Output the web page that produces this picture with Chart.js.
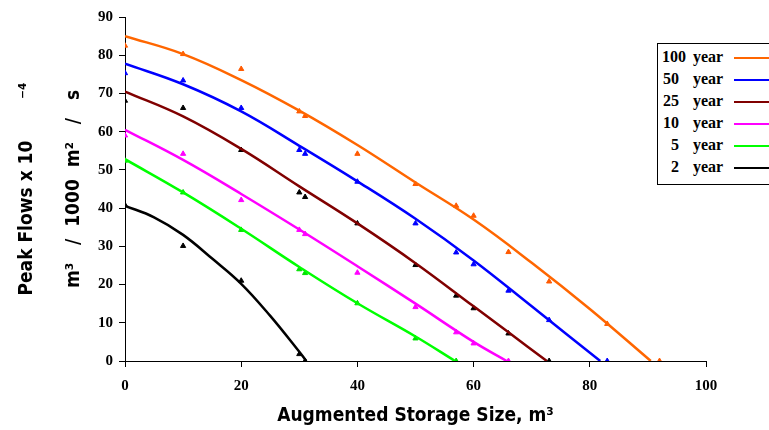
<!DOCTYPE html>
<html>
<head>
<meta charset="utf-8">
<title>Peak Flows vs Augmented Storage Size</title>
<script src="https://cdn.jsdelivr.net/npm/chart.js@4.4.1/dist/chart.umd.min.js"></script>
<style>
    body { margin: 0; background: #fff; }
    #wrap { position: relative; width: 769px; height: 430px; overflow: hidden; }
    #legend {
        position: absolute; left: 657px; top: 43px; width: 140px; height: 140px;
        border: 1px solid #000; background: #fff;
        font: bold 16px "Liberation Serif", "Times New Roman", serif; color: #000;
    }
    .row { position: absolute; left: 0; width: 140px; height: 22px; line-height: 22px; }
    .num { position: absolute; left: 4px; width: 17px; text-align: right; white-space: nowrap; }
    .yr { position: absolute; left: 35px; }
    .swatch { position: absolute; left: 76px; width: 60px; height: 2px; top: 11px; }
</style>
</head>
<body>
<div id="wrap">
    <canvas id="peakChart" width="769" height="430"></canvas>
    <div id="legend"></div>
</div>
<script>
// Storage sizes (m3) where the triangles were plotted
const markX = [0, 10, 20, 30, 31, 40, 50, 57, 60, 66, 73, 83, 92];

// Observed peak flows (triangles), one array per return period
const marks100 = [82.5, 80.3, 76.4, 65.3, 64.1, 54.2, 46.3, 40.6, 38, 28.5, 20.8, 9.7, 0];
const marks50 = [75.3, 73.4, 66.2, 55.2, 54.2, 46.9, 36, 28.4, 25.3, 18.4, 10.7, 0];
const marks25 = [68.1, 66.2, 55.2, 44.1, 42.9, 36, 25.1, 17.1, 13.8, 7.2, 0];
const marks10 = [59, 54.2, 42.1, 34.3, 33.2, 23.1, 14.1, 7.5, 4.6, 0];
const marks5 = [52.4, 44.1, 34.3, 24, 23, 15.1, 5.9, 0];
const marks2 = [40.8, 30.1, 21, 1.8, 0];

// Fitted curves
const curve100X = [0, 10, 20, 30, 40, 50, 60, 70, 80, 90.5];
const curve100Y = [85, 80.3, 73.5, 65.5, 56.5, 46.7, 37, 25.7, 13.6, 0];
const curve50X = [0, 10, 20, 30, 40, 50, 60, 70, 81.8];
const curve50Y = [77.8, 72.4, 65.3, 56.3, 47, 37.2, 26.3, 14.3, 0];
const curve25X = [0, 10, 20, 30, 40, 50, 60, 66, 72.6];
const curve25Y = [70.5, 64, 55.5, 45.7, 36, 25.6, 14.3, 7.5, 0];
const curve10X = [0, 10, 20, 30, 40, 50, 60, 65.7];
const curve10Y = [60.5, 52.6, 43.7, 34.4, 24.8, 15, 5, 0];
const curve5X = [0, 10, 20, 30, 40, 50, 56.8];
const curve5Y = [52.8, 44.1, 34.6, 24.6, 15.1, 6.4, 0];
const curve2X = [0, 5, 10, 15, 20, 25, 30, 31.2];
const curve2Y = [40.6, 37.6, 33, 26.8, 20.2, 11.8, 2.4, 0];

const xTicks = [0, 20, 40, 60, 80, 100];
const yTicks = [0, 10, 20, 30, 40, 50, 60, 70, 80, 90];

const series = [
    { label: '100', lineColor: '#FF6600', markColor: '#FF5A00', marks: marks100, cx: curve100X, cy: curve100Y },
    { label: '50', lineColor: '#0000FF', markColor: '#0000FF', marks: marks50, cx: curve50X, cy: curve50Y },
    { label: '25', lineColor: '#800000', markColor: '#000000', marks: marks25, cx: curve25X, cy: curve25Y },
    { label: '10', lineColor: '#FF00FF', markColor: '#FF00FF', marks: marks10, cx: curve10X, cy: curve10Y },
    { label: '5', lineColor: '#00FF00', markColor: '#00E000', marks: marks5, cx: curve5X, cy: curve5Y },
    { label: '2', lineColor: '#000000', markColor: '#000000', marks: marks2, cx: curve2X, cy: curve2Y }
];

const datasets = [];
series.forEach(s => {
    datasets.push({
        label: s.label + ' year',
        data: s.cx.map((x, i) => ({ x: x, y: s.cy[i] })),
        borderColor: s.lineColor,
        borderWidth: 2.5,
        pointRadius: 0,
        tension: 0.4,
        fill: false
    });
});
series.forEach(s => {
    datasets.push({
        label: s.label + ' year obs',
        data: s.marks.map((y, i) => ({ x: markX[i], y: y })),
        showLine: false,
        pointStyle: 'triangle',
        pointRadius: 3,
        pointBackgroundColor: s.markColor,
        pointBorderColor: s.markColor,
        pointBorderWidth: 1
    });
});

// Legend box on the right
const legendDiv = document.getElementById('legend');
series.forEach((s, i) => {
    const row = document.createElement('div');
    row.className = 'row';
    row.style.top = (2 + i * 22) + 'px';
    row.innerHTML = '<span class="num">' + s.label + '</span><span class="yr">year</span>' +
        '<span class="swatch" style="background:' + s.lineColor + '"></span>';
    legendDiv.appendChild(row);
});

const tickFont = { family: '"Liberation Serif", "Times New Roman", serif', size: 15, weight: 'bold' };
const titleFamily = '"DejaVu Sans Condensed", "DejaVu Sans", sans-serif';

const config = {
    type: 'line',
    data: { datasets: datasets },
    options: {
        responsive: false,
        animation: false,
        layout: { padding: { left: 0, right: 63, top: 17, bottom: 0 } },
        plugins: {
            legend: { display: false },
            tooltip: { enabled: false }
        },
        scales: {
            x: {
                type: 'linear',
                min: 0,
                max: 100,
                afterBuildTicks: axis => { axis.ticks = xTicks.map(v => ({ value: v })); },
                afterFit: scale => { scale.height = 69; },
                border: { color: '#000', width: 1 },
                grid: { drawOnChartArea: false, drawTicks: true, tickLength: 6, color: '#000' },
                ticks: { color: '#000', font: tickFont, padding: 10, maxRotation: 0 },
                title: {
                    display: true,
                    text: 'Augmented Storage Size, m³',
                    color: '#000',
                    font: { family: titleFamily, size: 19, weight: 'bold' },
                    padding: { top: 0, bottom: 3 }
                }
            },
            y: {
                type: 'linear',
                min: 0,
                max: 90,
                afterBuildTicks: axis => { axis.ticks = yTicks.map(v => ({ value: v })); },
                afterFit: scale => { scale.width = 125; },
                border: { color: '#000', width: 1 },
                grid: { drawOnChartArea: false, drawTicks: true, tickLength: 6, color: '#000' },
                ticks: { color: '#000', font: tickFont, padding: 6 },
                title: {
                    display: true,
                    text: ['Peak Flows x 10       ⁻⁴', 'm³   /  1000  m²   /   s'],
                    color: '#000',
                    font: { family: titleFamily, size: 19, weight: 'bold', lineHeight: 2.45 },
                    padding: { top: 4, bottom: 0 }
                }
            }
        }
    }
};

new Chart(document.getElementById('peakChart'), config);
</script>
</body>
</html>
